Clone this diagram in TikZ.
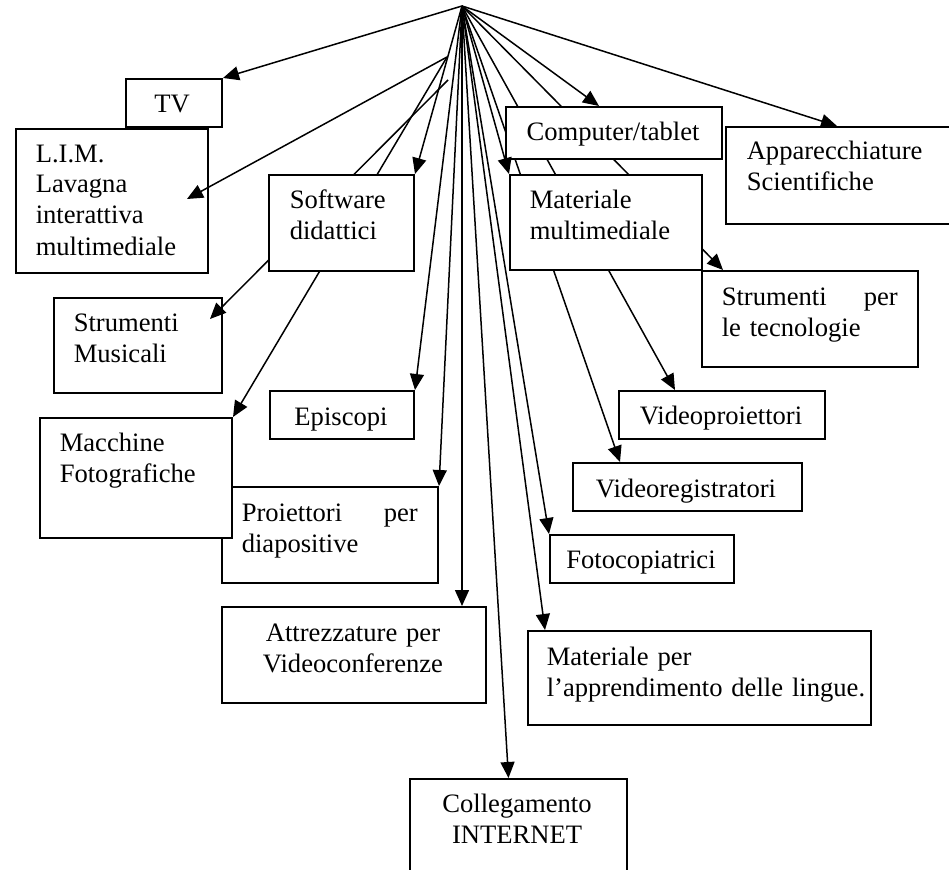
\documentclass[tikz,border=0pt]{standalone}
\usepackage{fontspec}
\setmainfont{Liberation Serif}
\usetikzlibrary{arrows.meta}

\begin{document}
\begin{tikzpicture}
            [>={Triangle[length=16pt,width=14pt]}, x=1pt, y=-1pt, line width=1.5pt,
             box/.style={draw, fill=white, line width=2pt, inner sep=0pt, anchor=north west},
             txt/.style={font=\fontsize{26.6}{31}\selectfont, inner sep=0pt, align=left}]
            \useasboundingbox (0,0) rectangle (949,869);
            \coordinate (hub) at (462,6);
            \coordinate (hubA) at (447,57);
            \coordinate (hubB) at (448,80);

            % boxes under the lines
            \node[box, minimum width=216, minimum height=96] (proi) at (221,486) {};
            \node[box, minimum width=192, minimum height=120] (mac) at (39,417) {};
            \node[box, minimum width=96, minimum height=48] (tv) at (125,78) {};
            \node[box, minimum width=192, minimum height=144] (lim) at (15,128) {};
            \node[box, minimum width=168, minimum height=95] (smus) at (53,297) {};
            \node[box, minimum width=144, minimum height=48] (epi) at (269,390) {};
            \node[box, minimum width=264, minimum height=96] (attr) at (221,606) {};
            \node[box, minimum width=217, minimum height=112] (coll) at (409,778) {};
            \node[box, minimum width=240, minimum height=97] (app) at (725,126) {};
            \node[box, minimum width=216, minimum height=96] (stec) at (701,270) {};
            \node[box, minimum width=206, minimum height=48] (vpro) at (618,390) {};
            \node[box, minimum width=229, minimum height=48] (vreg) at (572,462) {};
            \node[box, minimum width=184, minimum height=48] (foto) at (549,534) {};
            \node[box, minimum width=343, minimum height=94] (ling) at (527,630) {};

            % lines running behind the boxes
            \draw[->] (hubA) -- (mac.north east);
            \draw[->] (hubB) -- ([shift={(-13,22)}]smus.north east);
            \draw[->] (hub) -- ([xshift=48]vreg.north west);
            \draw[->] (hub) -- ([xshift=57]vpro.north west);
            \draw[->] (hub) -- ([xshift=22]stec.north west);

            \node[box, minimum width=145, minimum height=96] (soft) at (268,174) {};
            \node[box, minimum width=216, minimum height=52] (comp) at (505,106) {};
            \node[box, minimum width=192, minimum height=95] (mm) at (509,174) {};

            \draw[->] (hub) -- (tv.north east);
            \draw[->] (hubA) -- ([shift={(-22,71)}]lim.north east);
            \draw[->] (hub) -- (soft.north east);
            \draw[->] (hub) -- (epi.north east);
            \draw[->] (hub) -- (proi.north east);
            \draw[->] (hub) -- (attr.north -| hub);
            \draw[->] (hub) -- ([xshift=-10]coll.north);
            \draw[->] (hub) -- ([xshift=18]ling.north west);
            \draw[->] (hub) -- (foto.north west);
            \draw[->] (hub) -- (mm.north west);
            \draw[->] (hub) -- ([xshift=-15]comp.north);
            \draw[->] (hub) -- ([xshift=112]app.north west);

            % texts
            \node[txt, anchor=base] (tv-t) at (172,113) {TV};
            \node[txt, anchor=base west, text width=170] (lim-t) at (35,162) {L.I.M.\\Lavagna\\interattiva\\multimediale};
            \node[txt, anchor=base west, text width=120] (soft-t) at (289,208) {Software\\didattici};
            \node[txt, anchor=base west, text width=145] (smus-t) at (73,331) {Strumenti\\Musicali};
            \node[txt, anchor=base west, text width=170] (mac-t) at (59,451) {Macchine\\Fotografiche};
            \node[txt, anchor=base west, text width=176] (proi-t) at (241,521) {Proiettori\hfill per\\diapositive};
            \node[txt, anchor=base, text width=264, align=center] (attr-t) at (353,641) {Attrezzature per\\Videoconferenze};
            \node[txt, anchor=base, text width=217, align=center] (coll-t) at (517,812) {Collegamento\\INTERNET};
            \node[txt, anchor=base] (comp-t) at (613,141) {Computer/tablet};
            \node[txt, anchor=base west, text width=200] (app-t) at (746,160) {Apparecchiature\\Scientifiche};
            \node[txt, anchor=base west, text width=170] (mm-t) at (529,208) {Materiale\\multimediale};
            \node[txt, anchor=base west, text width=176] (stec-t) at (721,305) {Strumenti\hfill per\\le tecnologie};
            \node[txt, anchor=base west, text width=320] (ling-t) at (546,665) {Materiale per\\l’apprendimento delle lingue.};
            \begin{scope}
              \clip (epi.north west) rectangle ([yshift=10]epi.south east);
              \node[txt, anchor=base] (epi-t) at (341,425) {Episcopi};
            \end{scope}
            \begin{scope}
              \clip (vpro.north west) rectangle ([yshift=11]vpro.south east);
              \node[txt, anchor=base] (vpro-t) at (721,424) {Videoproiettori};
            \end{scope}
            \begin{scope}
              \clip (vreg.north west) rectangle ([yshift=10]vreg.south east);
              \node[txt, anchor=base] (vreg-t) at (686,497) {Videoregistratori};
            \end{scope}
            \begin{scope}
              \clip (foto.north west) rectangle ([yshift=11]foto.south east);
              \node[txt, anchor=base] (foto-t) at (641,568) {Fotocopiatrici};
            \end{scope}
        \end{tikzpicture}
\end{document}
